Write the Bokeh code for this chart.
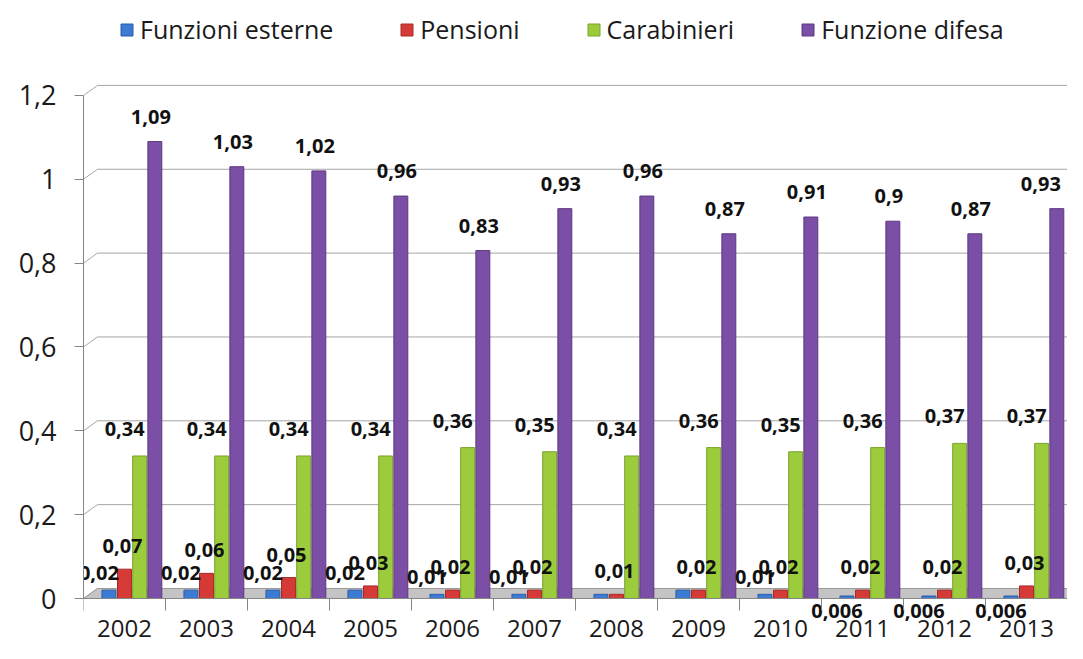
from bokeh.plotting import figure
from bokeh.models import Range1d, FixedTicker, ColumnDataSource, Legend, LegendItem
from bokeh.core.properties import value
from bokeh.embed import file_html
from bokeh.resources import INLINE

# ---- data ----
years = ["2002", "2003", "2004", "2005", "2006", "2007", "2008", "2009", "2010", "2011", "2012", "2013"]
funzioni_esterne = [0.02, 0.02, 0.02, 0.02, 0.01, 0.01, 0.01, 0.02, 0.01, 0.006, 0.006, 0.006]
pensioni = [0.07, 0.06, 0.05, 0.03, 0.02, 0.02, 0.01, 0.02, 0.02, 0.02, 0.02, 0.03]
carabinieri = [0.34, 0.34, 0.34, 0.34, 0.36, 0.35, 0.34, 0.36, 0.35, 0.36, 0.37, 0.37]
funzione_difesa = [1.09, 1.03, 1.02, 0.96, 0.83, 0.93, 0.96, 0.87, 0.91, 0.90, 0.87, 0.93]
series_names = ["Funzioni esterne", "Pensioni", "Carabinieri", "Funzione difesa"]
y_ticks = [0, 0.2, 0.4, 0.6, 0.8, 1.0, 1.2]

# ---- style ----
FONT = "Open Sans"
colors = ["#3B7BD4", "#D63A36", "#9CCB3C", "#7B4FA6"]
edges = ["#2A5DA8", "#A82A28", "#78A42A", "#5C3880"]
offsets = [-0.19, 0.0, 0.185, 0.37]
bar_w = 0.17
label_dx = [-10, -2, -15, -4]
label_dy = [-17, -23, -27, -25]

def fmt(v):
    return f"{v:g}".replace(".", ",")

n = len(years)
xs = list(range(n))
p = figure(width=1067, height=643, output_backend="svg", toolbar_location=None,
           x_range=Range1d(-0.5, n - 0.5), y_range=Range1d(-0.1073, 1.4265),
           min_border_left=83, min_border_right=0, min_border_top=0, min_border_bottom=0)
p.outline_line_color = None
p.xgrid.visible = False
p.ygrid.visible = False

# 3D-like wall and floor
dx, dy = 0.17, 0.0239
x_left, x_right = -0.5, n - 0.5
wall_t = [t for t in y_ticks if t > 0]
p.segment(x0=[x_left + dx] * len(wall_t), y0=[t + dy for t in wall_t],
          x1=[x_right + dx] * len(wall_t), y1=[t + dy for t in wall_t],
          line_color="#A6A6A6", line_width=1)
p.segment(x0=[x_left] * len(y_ticks), y0=y_ticks,
          x1=[x_left + dx] * len(y_ticks), y1=[t + dy for t in y_ticks],
          line_color="#A6A6A6", line_width=1)
p.patch(x=[x_left, x_right, x_right + dx, x_left + dx], y=[0, 0, dy, dy],
        fill_color="#C4C4C4", line_color="#9A9A9A", line_width=1)

data = [funzioni_esterne, pensioni, carabinieri, funzione_difesa]
items = []
label_sources = []
for k, vals in enumerate(data):
    src = ColumnDataSource(dict(x=[x + offsets[k] for x in xs], top=vals))
    r = p.vbar(x="x", top="top", bottom=0, width=bar_w, source=src,
               fill_color=colors[k], line_color=edges[k], line_width=1)
    items.append(LegendItem(label=series_names[k], renderers=[r]))

    lx, ly, lt, lxo, lyo = [], [], [], [], []
    for i, v in enumerate(vals):
        if k == 0 and v == pensioni[i]:
            continue
        lx.append(xs[i] + offsets[k])
        ly.append(v)
        lt.append(fmt(v))
        xo = label_dx[k]
        if k == 3 and i == n - 1:
            xo = -16
        lxo.append(xo)
        lyo.append(15 if v < 0.01 else label_dy[k])
    label_sources.append(ColumnDataSource(dict(x=lx, y=ly, t=lt, xo=lxo, yo=lyo)))

for lsrc in label_sources:
    p.text(x="x", y="y", text="t", source=lsrc, x_offset="xo", y_offset="yo",
           text_align="center", text_baseline="middle",
           text_font=value(FONT), text_font_size="20px", text_font_style="bold",
           text_color="#111111")

legend = Legend(items=items, orientation="horizontal", location=(36, 597),
                label_text_font=FONT, label_text_font_size="25px", label_text_color="#1a1a1a",
                glyph_width=15, glyph_height=15, label_standoff=6, spacing=66,
                border_line_color=None, background_fill_alpha=0, margin=0, padding=5)
p.add_layout(legend)

# y axis
p.yaxis.ticker = FixedTicker(ticks=y_ticks)
p.yaxis.major_label_overrides = {t: fmt(t) for t in y_ticks}
p.yaxis.bounds = (0, 1.2)
p.yaxis.axis_line_color = "#868686"
p.yaxis.major_tick_line_color = "#868686"
p.yaxis.major_tick_out = 9
p.yaxis.major_tick_in = 0
p.yaxis.minor_tick_line_color = None
p.yaxis.major_label_standoff = 18
p.yaxis.major_label_text_font = FONT
p.yaxis.major_label_text_font_size = "27px"
p.yaxis.major_label_text_color = "#1a1a1a"

# x axis
p.xaxis.fixed_location = 0
p.xaxis.ticker = FixedTicker(ticks=xs, minor_ticks=[x - 0.5 for x in xs] + [n - 0.5])
p.xaxis.major_label_overrides = {x: years[x] for x in xs}
p.xaxis.axis_line_color = "#868686"
p.xaxis.major_tick_line_color = None
p.xaxis.major_tick_out = 0
p.xaxis.major_tick_in = 0
p.xaxis.minor_tick_line_color = "#868686"
p.xaxis.minor_tick_out = 12
p.xaxis.minor_tick_in = 0
p.xaxis.major_label_standoff = 9
p.xaxis.major_label_text_font = FONT
p.xaxis.major_label_text_font_size = "24px"
p.xaxis.major_label_text_color = "#1a1a1a"

open("out.html", "w").write(file_html(p, INLINE))
